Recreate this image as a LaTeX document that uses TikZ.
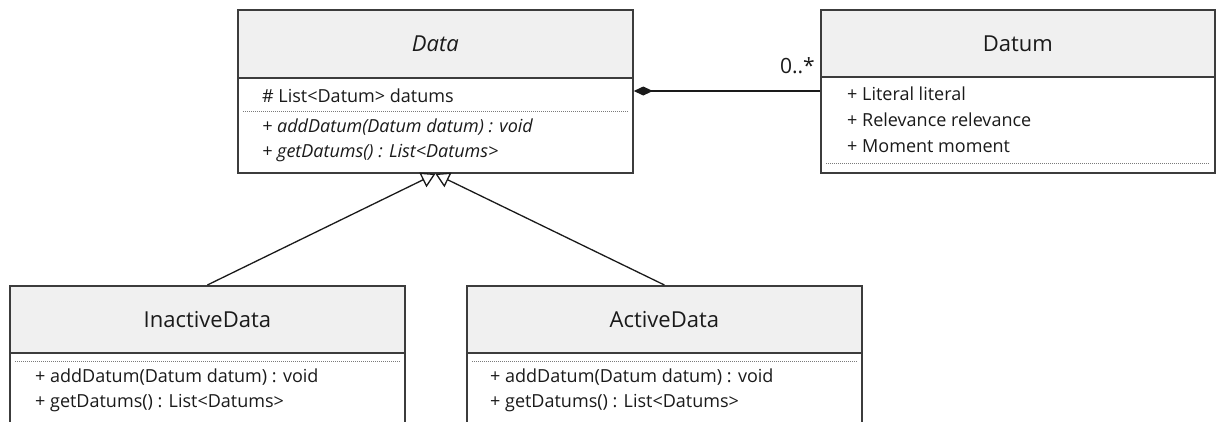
\documentclass[tikz,border=0pt]{standalone}
\usepackage{fontspec}
\setmainfont{Open Sans}
\usepackage{xcolor}
\definecolor{uml-line}{HTML}{3C3C3C}
\definecolor{uml-head}{HTML}{F0F0F0}
\definecolor{uml-text}{HTML}{1A1A1A}
\definecolor{uml-dots}{HTML}{7A7A7A}
\usetikzlibrary{arrows.meta}

\tikzset{
  head/.style={draw=uml-line, line width=1.8pt, fill=uml-head, anchor=north west,
    inner sep=0pt, font=\fontsize{22}{26}\selectfont, text=uml-text},
  body/.style={draw=uml-line, line width=1.8pt, fill=white, anchor=north west, inner sep=0pt},
  attr/.style={anchor=west, inner sep=0pt, font=\fontsize{18}{21}\selectfont, text=uml-text},
  sep/.style={uml-dots, line width=0.8pt, dash pattern=on 1pt off 1pt},
  link/.style={uml-text, line width=1.3pt},
}

\begin{document}
\begin{tikzpicture}[x=1pt, y=-1pt]

    % Frame
    \useasboundingbox (0, 0) rectangle (1216, 421);
    \clip (0, 0) rectangle (1216, 421);

    % Data
    \node[body, minimum width=395pt, minimum height=95pt] (databody) at (237, 77) {};
    \node[head, minimum width=395pt, minimum height=68pt] (data) at (237, 9) {\textit{Data}};
    \node[attr] (datafield) at ([shift={(25pt,-19pt)}]databody.north west) {\# List<Datum> datums};
    \draw[sep] ([shift={(6pt,-34pt)}]databody.north west) -- ([shift={(-6pt,-34pt)}]databody.north east);
    \node[attr] (dataadd) at ([shift={(25pt,-50pt)}]databody.north west) {\textit{+ addDatum(Datum datum) : void}};
    \node[attr] (dataget) at ([shift={(25pt,-76pt)}]databody.north west) {\textit{+ getDatums() : List<Datums>}};

    % Datum
    \node[body, minimum width=394pt, minimum height=96pt] (datumbody) at (820, 76) {};
    \node[head, minimum width=394pt, minimum height=67pt] (datum) at (820, 9) {Datum};
    \node[attr] (datumliteral) at ([shift={(27pt,-18pt)}]datumbody.north west) {+ Literal literal};
    \node[attr] (datumrelevance) at ([shift={(27pt,-44pt)}]datumbody.north west) {+ Relevance relevance};
    \node[attr] (datummoment) at ([shift={(27pt,-70pt)}]datumbody.north west) {+ Moment moment};
    \draw[sep] ([shift={(6pt,-87pt)}]datumbody.north west) -- ([shift={(-6pt,-87pt)}]datumbody.north east);

    % InactiveData
    \node[body, minimum width=395pt, minimum height=120pt] (inactivebody) at (9, 352) {};
    \node[head, minimum width=395pt, minimum height=67pt] (inactive) at (9, 285) {InactiveData};
    \draw[sep] ([shift={(6pt,-9pt)}]inactivebody.north west) -- ([shift={(-6pt,-9pt)}]inactivebody.north east);
    \node[attr] (inactiveadd) at ([shift={(26pt,-25pt)}]inactivebody.north west) {+ addDatum(Datum datum) : void};
    \node[attr] (inactiveget) at ([shift={(26pt,-51pt)}]inactivebody.north west) {+ getDatums() : List<Datums>};

    % ActiveData
    \node[body, minimum width=395pt, minimum height=120pt] (activebody) at (466, 352) {};
    \node[head, minimum width=395pt, minimum height=67pt] (active) at (466, 285) {ActiveData};
    \draw[sep] ([shift={(6pt,-9pt)}]activebody.north west) -- ([shift={(-6pt,-9pt)}]activebody.north east);
    \node[attr] (activeadd) at ([shift={(24pt,-25pt)}]activebody.north west) {+ addDatum(Datum datum) : void};
    \node[attr] (activeget) at ([shift={(24pt,-51pt)}]activebody.north west) {+ getDatums() : List<Datums>};

    % Composition
    \draw[link, {Diamond[length=19pt, width=9pt]}-] ([yshift=-14pt]databody.north east) -- ([yshift=-15pt]datumbody.north west);
    \node[anchor=base east, inner sep=0pt, font=\fontsize{21}{24}\selectfont, text=uml-text] (many) at ([shift={(-5pt,3pt)}]datumbody.north west) {0..*};

    % Generalization
    \draw[link, -{Triangle[open, fill=white, length=14pt, width=16pt]}] (inactive.north) -- (databody.south);
    \draw[link, -{Triangle[open, fill=white, length=14pt, width=16pt]}] (active.north) -- (databody.south);

\end{tikzpicture}
\end{document}
